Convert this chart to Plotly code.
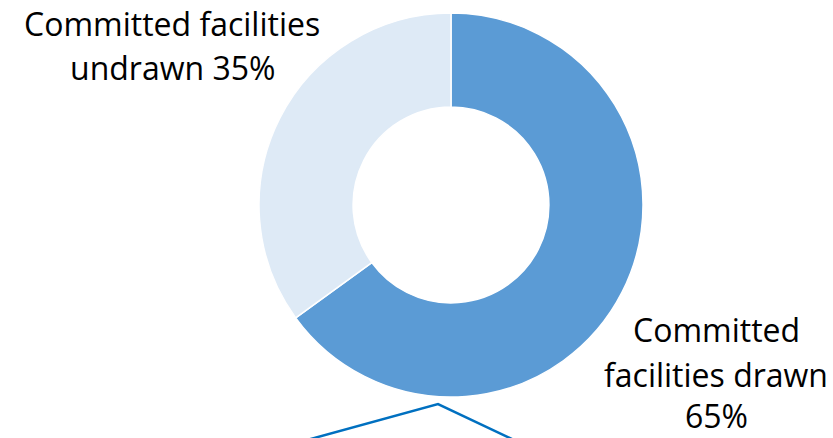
import plotly.graph_objects as go

labels = ["Committed facilities drawn", "Committed facilities undrawn"]
values = [65, 35]
colors = ["#5B9BD5", "#DEEAF6"]
left_lines = ["Committed facilities", "undrawn 35%"]
right_lines = ["Committed", "facilities drawn", "65%"]

W, H = 833, 438
cx, cy, r = 451, 205, 192

fig = go.Figure(go.Pie(
    labels=labels, values=values, hole=0.51, sort=False,
    direction="clockwise", rotation=0,
    marker=dict(colors=colors, line=dict(color="white", width=1.5)),
    textinfo="none", hoverinfo="label+percent", showlegend=False,
    domain=dict(x=[(cx - r) / W, (cx + r) / W], y=[(H - cy - r) / H, (H - cy + r) / H]),
))

font = dict(family="Open Sans, sans-serif", size=32, color="black")
for txt, yc in zip(left_lines, [23, 67]):
    fig.add_annotation(x=172 / W, y=1 - yc / H, xref="paper", yref="paper",
                       text=txt, showarrow=False, font=font, borderpad=0,
                       xanchor="center", yanchor="middle")
for txt, yc in zip(right_lines, [329, 374, 415]):
    fig.add_annotation(x=716 / W, y=1 - yc / H, xref="paper", yref="paper",
                       text=txt, showarrow=False, font=font, borderpad=0,
                       xanchor="center", yanchor="middle")

fig.add_shape(type="path", xref="paper", yref="paper",
              path=f"M {307/W} {1-440/H} L {438/W} {1-404/H} L {514/W} {1-440/H}",
              line=dict(color="#0070C0", width=2.5))

fig.update_layout(width=W, height=H, margin=dict(l=0, r=0, t=0, b=0),
                  paper_bgcolor="white", plot_bgcolor="white")
fig.write_html("out.html")
